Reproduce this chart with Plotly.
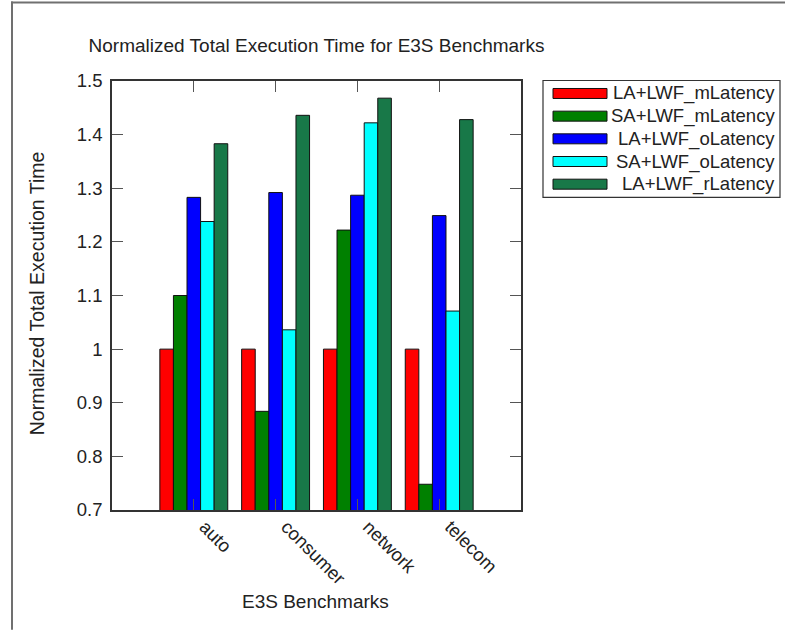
import plotly.graph_objects as go

# Benchmarks and normalized execution times per scheme
benchmarks = ["auto", "consumer", "network", "telecom"]
series_names = ["LA+LWF_mLatency", "SA+LWF_mLatency", "LA+LWF_oLatency",
                "SA+LWF_oLatency", "LA+LWF_rLatency"]
la_lwf_m = [1.0, 1.0, 1.0, 1.0]
sa_lwf_m = [1.10, 0.884, 1.222, 0.748]
la_lwf_o = [1.283, 1.292, 1.287, 1.249]
sa_lwf_o = [1.238, 1.036, 1.422, 1.071]
la_lwf_r = [1.383, 1.436, 1.468, 1.428]
series_values = [la_lwf_m, sa_lwf_m, la_lwf_o, sa_lwf_o, la_lwf_r]
series_colors = ["#ff0000", "#008000", "#0000ff", "#00ffff", "#187848"]
y_ticks = [0.7, 0.8, 0.9, 1.0, 1.1, 1.2, 1.3, 1.4, 1.5]
y_ticktext = ["0.7", "0.8", "0.9", "1", "1.1", "1.2", "1.3", "1.4", "1.5"]

W, H = 785, 630
L, R, T, B = 112, 521, 80.5, 510  # plot area in pixels
FONT = "Liberation Sans, Arial, Helvetica, sans-serif"
TXT = "#222222"
TITLE_SIZE = 19
YTITLE_SIZE = 19.5
LABEL_SIZE = 18.5


def px_x(px):
    return (px - L) / (R - L)


def px_y(py):
    return (B - py) / (B - T)


xpos = list(range(1, len(benchmarks) + 1))

fig = go.Figure()
for name, vals, col in zip(series_names, series_values, series_colors):
    fig.add_trace(go.Bar(
        x=xpos, y=vals, name=name, marker_color=col,
        marker_line=dict(color="#111111", width=1), showlegend=False,
    ))

axis_common = dict(
    showline=True, linecolor="#333333", linewidth=1.5, mirror="allticks",
    ticks="inside", ticklen=11, tickwidth=1, tickcolor="#555555",
    showgrid=False, zeroline=False,
    tickfont=dict(family=FONT, size=LABEL_SIZE, color=TXT),
)

fig.update_layout(
    width=W, height=H,
    margin=dict(l=L, r=W - R, t=T, b=H - B),
    paper_bgcolor="white", plot_bgcolor="white",
    barmode="group", bargap=0.17, bargroupgap=0,
    font=dict(family=FONT, size=LABEL_SIZE, color=TXT),
    title=dict(text="Normalized Total Execution Time for E3S Benchmarks",
               x=0.5, xref="paper", y=1 - 45 / H, yref="container",
               xanchor="center", yanchor="middle",
               font=dict(family=FONT, size=TITLE_SIZE, color=TXT)),
    xaxis=dict(range=[0, 5], tickvals=xpos, ticktext=benchmarks,
               tickangle=45, ticklabelshift=11, ticklabelstandoff=-3,
               **axis_common),
    yaxis=dict(range=[0.7, 1.5], tickvals=y_ticks, ticktext=y_ticktext,
               ticklabelstandoff=4, **axis_common),
    showlegend=False,
)

shapes = []
annotations = []

# Axis titles
annotations.append(dict(text="E3S Benchmarks", xref="paper", yref="paper",
                        x=px_x(315), y=px_y(602), showarrow=False,
                        xanchor="center", yanchor="middle",
                        font=dict(family=FONT, size=TITLE_SIZE, color=TXT)))
annotations.append(dict(text="Normalized Total Execution Time", xref="paper",
                        yref="paper", x=px_x(37), y=px_y(293), showarrow=False,
                        textangle=-90, xanchor="center", yanchor="middle",
                        font=dict(family=FONT, size=YTITLE_SIZE, color=TXT)))

# Legend box with wide swatches and right-aligned labels
lx0, lx1, ly0, ly1 = 543, 780, 80, 197
shapes.append(dict(type="rect", xref="paper", yref="paper",
                   x0=px_x(lx0), x1=px_x(lx1), y0=px_y(ly0), y1=px_y(ly1),
                   line=dict(color="#333333", width=1.2), fillcolor="white"))
row_y0, row_dy = 93, 22.7
for i, (name, col) in enumerate(zip(series_names, series_colors)):
    cy = row_y0 + i * row_dy
    shapes.append(dict(type="rect", xref="paper", yref="paper",
                       x0=px_x(553), x1=px_x(607), y0=px_y(cy - 5), y1=px_y(cy + 5),
                       line=dict(color="#111111", width=1), fillcolor=col))
    annotations.append(dict(text=name, xref="paper", yref="paper",
                            x=px_x(777), y=px_y(cy), showarrow=False,
                            xanchor="right", yanchor="middle",
                            font=dict(family=FONT, size=LABEL_SIZE, color=TXT)))

# Figure frame edges (left and top)
shapes.append(dict(type="line", xref="paper", yref="paper",
                   x0=px_x(12), x1=px_x(12), y0=px_y(1), y1=px_y(H),
                   line=dict(color="#707070", width=2)))
shapes.append(dict(type="line", xref="paper", yref="paper",
                   x0=px_x(11), x1=px_x(W), y0=px_y(2), y1=px_y(2),
                   line=dict(color="#707070", width=2)))

fig.update_layout(shapes=shapes, annotations=annotations)
fig.write_html("out.html")
